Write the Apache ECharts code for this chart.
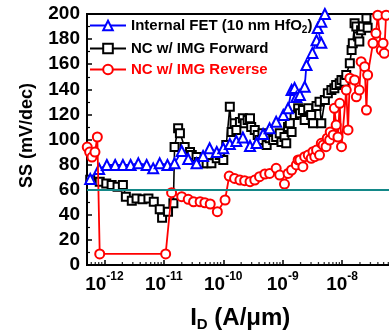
<!DOCTYPE html>
<html><head><meta charset="utf-8">
<script src="https://cdn.jsdelivr.net/npm/echarts@6/dist/echarts.min.js"></script>
<style>html,body{margin:0;padding:0;background:#fff}#c{width:389px;height:330px}</style>
</head><body><div id="c"></div>
<script>
// ---- data (x stored as log10 of I_D in A/um, y = SS in mV/dec) ----
const xMin = 5.08e-13, xMax = 1e-7;
const yMin = 0, yMax = 200, yStep = 20;
const idealSS = 60;
const nameFET = 'Internal FET (10 nm HfO2)';
const nameFwd = 'NC w/ IMG Forward';
const nameRev = 'NC w/ IMG Reverse';
const xLabelExps = [-12, -11, -10, -9, -8];
const minorTickIds = [6e-13,7e-13,8e-13,9e-13,
  2e-12,3e-12,4e-12,5e-12,6e-12,7e-12,8e-12,9e-12,
  2e-11,3e-11,4e-11,5e-11,6e-11,7e-11,8e-11,9e-11,
  2e-10,3e-10,4e-10,5e-10,6e-10,7e-10,8e-10,9e-10,
  2e-9,3e-9,4e-9,5e-9,6e-9,7e-9,8e-9,9e-9,
  2e-8,3e-8,4e-8,5e-8,6e-8,7e-8,8e-8,9e-8];

const fetLogId = [-12.24,-12.09,-11.96,-11.82,-11.69,-11.56,-11.43,-11.29,-11.18,-11.07,-10.94,-10.82,-10.70,-10.59,-10.45,-10.34,-10.23,-10.11,-10.00,-9.89,-9.78,-9.67,-9.55,-9.44,-9.33,-9.22,-9.11,-8.99,-8.91,-8.85,-8.80,-8.77,-8.71,-8.63,-8.60,-8.50,-8.43,-8.35,-8.41,-8.35,-8.29,-8.26];
const fetSS = [68.5,76.5,79.7,79.7,79.7,79.7,81,79.7,77,81,79.7,81,90.8,84.5,81,86.9,93,90,93,96.4,98.8,101.6,94.8,97.2,104.4,108.9,114.2,119.5,124.9,139.4,141,133.9,135.5,142,159.4,169,179,177,188.8,193.9,200,206];

const fwdLogId = [-12.24,-12.08,-11.97,-11.88,-11.78,-11.69,-11.64,-11.54,-11.46,-11.36,
  -11.26,-11.17,-11.07,-11.03,-10.93,-10.84,-10.82,-10.76,-10.73,-10.65,
  -10.56,-10.53,-10.45,-10.41,-10.34,-10.28,-10.20,-10.11,-10.06,-10.00,
  -9.95,-9.89,-9.86,-9.81,-9.78,-9.72,-9.67,-9.64,-9.59,-9.55,
  -9.53,-9.47,-9.42,-9.39,-9.34,-9.27,-9.22,-9.16,-9.11,-9.05,
  -9.02,-8.97,-8.94,-8.91,-8.88,-8.85,-8.80,-8.74,-8.71,-8.66,
  -8.63,-8.57,-8.52,-8.49,-8.43,-8.38,-8.35,-8.29,-8.24,-8.18,
  -8.13,-8.10,-8.04,-8.01,-7.96,-7.93,-7.87,-7.84,-7.82,-7.79,
  -7.76,-7.73,-7.71,-7.68,-7.65,-7.59,-7.57,-7.54];
const fwdSS = [68,66.4,65,63.7,62.4,63.7,54.4,51.2,53,52.3,
  53,50.4,44.4,37.7,42.5,49.2,94,109,105,94,
  90,87.6,86,82,81,81,81,85,87.6,83.7,
  95.6,126,106,113,107.6,114,117,113,115.5,117,
  110,107.6,103.6,99.6,105,95.6,101,99.6,102,104.9,
  98,102,97,110,112.9,106,119.5,124.9,120.9,123.5,
  115.5,124.9,119.5,112.9,126.7,130,112.9,131.5,136.8,139.4,
  140.8,143.4,144.8,147.4,146,151.4,160.7,171.3,176.7,192.6,
  190,182,178,187,190,196.6,189,205];

const revLogId = [-12.29,-12.25,-12.21,-12.16,-12.12,-12.08,-10.97,-10.87,-10.70,-10.59,
  -10.50,-10.39,-10.31,-10.22,-10.10,-9.97,-9.90,-9.81,-9.72,-9.64,
  -9.55,-9.47,-9.39,-9.30,-9.22,-9.11,-9.05,-8.97,-8.91,-8.85,
  -8.77,-8.74,-8.71,-8.66,-8.63,-8.57,-8.52,-8.49,-8.46,-8.43,
  -8.38,-8.35,-8.32,-8.27,-8.25,-8.21,-8.20,-8.15,-8.13,-8.10,
  -8.07,-8.04,-8.01,-7.93,-7.90,-7.87,-7.79,-7.76,-7.71,-7.68,
  -7.62,-7.59,-7.57,-7.48,-7.43,-7.40,-7.34,-7.31,-7.29,-7.26,-7.22];
const revSS = [94,90,86,90,102,8.8,8.8,57.6,54.4,52.3,
  50.4,50.4,49.6,48.6,42.5,51.8,70.9,69,67.7,67.2,
  66.4,67.7,70.4,72.5,73,77,71.7,64.5,73,75.7,
  79.7,83.7,83.7,78.3,86.3,87.6,85,90.3,86.3,91.6,
  87.6,97,95.6,94.3,101,99.6,106,103.6,124.9,111.5,
  102,128.8,94.3,139.4,107.6,148.8,147.4,134,139.4,162,
  158,123.5,151.4,176.7,184.6,199,171.3,176.7,168.7,199,205];

// ---- chart ----
const FONT = '"Liberation Sans", Arial, sans-serif';
const toPts = (lg, ss) => lg.map((e, i) => [Math.pow(10, e), ss[i]]);
const chart = echarts.init(document.getElementById('c'), null, {renderer: 'canvas'});

const option = {
  animation: false,
  grid: {left: 87, top: 14, right: -12.5, bottom: 65, containLabel: false, outerBoundsMode: 'none',
    show: true, borderColor: '#000', borderWidth: 2, backgroundColor: 'transparent'},
  legend: {
    orient: 'vertical', left: 89, top: 18, padding: 0, itemWidth: 36, itemHeight: 12, itemGap: 6,
    selectedMode: false,
    formatter: n => n === nameFET ? 'Internal FET (10 nm HfO{sub|2})' : n,
    textStyle: {fontSize: 15, fontWeight: 'bold', fontFamily: FONT, color: '#000',
      rich: {sub: {fontSize: 10, fontWeight: 'bold', fontFamily: FONT, color: '#000', padding: [9, 0, 0, 0]}}},
    data: [{name: nameFET}, {name: nameFwd}, {name: nameRev, textStyle: {color: '#ff0000'}}]
  },
  xAxis: {
    type: 'log', logBase: 10, min: xMin, max: xMax,
    axisLine: {onZero: false, lineStyle: {color: '#000', width: 2}},
    axisTick: {inside: true, length: 5, lineStyle: {color: '#000', width: 1.5}},
    splitLine: {show: false},
    axisLabel: {
      margin: 10, color: '#000', showMaxLabel: false,
      formatter: v => { const e = Math.log10(v), r = Math.round(e);
        return (Math.abs(e - r) > 1e-6 || xLabelExps.indexOf(r) < 0) ? '' : '{b|10}{s|' + r + '}'; },
      rich: {
        b: {fontSize: 19, fontWeight: 'bold', fontFamily: FONT, color: '#000', lineHeight: 20},
        s: {fontSize: 12, fontWeight: 'bold', fontFamily: FONT, color: '#000', lineHeight: 12, padding: [0, 0, 16, 0]}
      }
    },
    name: '{m|I}{d|D}{m| (A/μm)}', nameLocation: 'middle', nameGap: 20,
    nameTextStyle: {padding: [0, 8, 0, 0], rich: {
      m: {fontSize: 24, fontWeight: 'bold', fontFamily: FONT, color: '#000', lineHeight: 24},
      d: {fontSize: 15, fontWeight: 'bold', fontFamily: FONT, color: '#000', lineHeight: 15, padding: [13, 0, 0, 0]}
    }}
  },
  yAxis: {
    type: 'value', min: yMin, max: yMax, interval: yStep,
    axisLine: {show: true, onZero: false, lineStyle: {color: '#000', width: 2}},
    axisTick: {inside: true, length: 5, lineStyle: {color: '#000', width: 1.5}},
    minorTick: {show: true, splitNumber: 2, length: 3, lineStyle: {color: '#000', width: 1.2}},
    splitLine: {show: false},
    axisLabel: {margin: 7, fontSize: 19, fontWeight: 'bold', fontFamily: FONT, color: '#000'},
    name: 'SS (mV/dec)', nameLocation: 'middle', nameGap: 51,
    nameTextStyle: {fontSize: 18, fontWeight: 'bold', fontFamily: FONT, color: '#000', padding: [0, 0, 0, 8]}
  },
  series: [
    {
      name: 'minorTicks', type: 'scatter', silent: true, z: 5,
      data: minorTickIds.map(v => [v, 0]),
      symbol: 'rect', symbolSize: [1.3, 3], symbolOffset: [0, -1.5],
      itemStyle: {color: '#000'}
    },
    {
      name: nameFwd, type: 'line', z: 2,
      data: toPts(fwdLogId, fwdSS),
      symbol: 'emptyRect', symbolSize: 8,
      lineStyle: {color: '#000', width: 1.6},
      itemStyle: {color: '#000', borderWidth: 1.6},
      markLine: {silent: true, symbol: ['none', 'none'], label: {show: false},
        lineStyle: {color: '#138888', width: 2, type: 'solid'}, data: [{yAxis: idealSS}]}
    },
    {
      name: nameFET, type: 'line', z: 3,
      data: toPts(fetLogId, fetSS),
      symbol: 'emptyTriangle', symbolSize: 10,
      lineStyle: {color: '#0000ff', width: 1.8},
      itemStyle: {color: '#0000ff', borderWidth: 1.8}
    },
    {
      name: nameRev, type: 'line', z: 4,
      data: toPts(revLogId, revSS),
      symbol: 'emptyCircle', symbolSize: 9,
      lineStyle: {color: '#ff0000', width: 1.8},
      itemStyle: {color: '#ff0000', borderWidth: 1.8}
    }
  ]
};
chart.setOption(option);
</script>
</body></html>
